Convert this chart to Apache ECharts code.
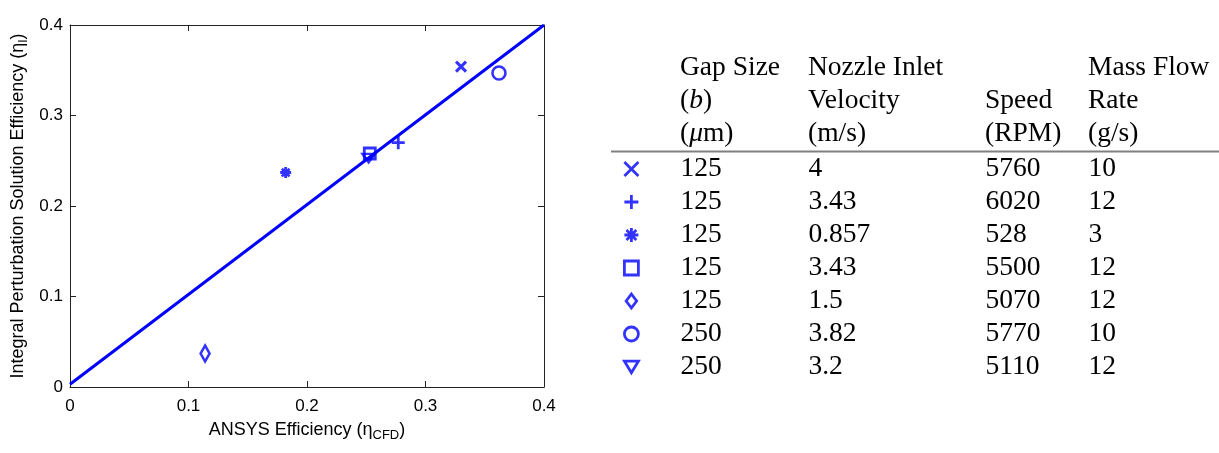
<!DOCTYPE html>
<html><head><meta charset="utf-8">
<script src="https://cdn.jsdelivr.net/npm/echarts@6/dist/echarts.min.js"></script>
<style>html,body{margin:0;padding:0;background:#fff}#c{width:1219px;height:453px}</style>
</head><body><div id="c"></div>
<script>
// ---- data ----
const caseNames = ['case1','case2','case3','case4','case5','case6','case7'];
const cfdEfficiency = [0.330, 0.277, 0.182, 0.253, 0.114, 0.362, 0.252];
const ipsEfficiency = [0.354, 0.270, 0.237, 0.258, 0.037, 0.347, 0.253];
const gapSize = ['125','125','125','125','125','250','250'];
const nozzleVelocity = ['4','3.43','0.857','3.43','1.5','3.82','3.2'];
const speedRPM = ['5760','6020','528','5500','5070','5770','5110'];
const massFlow = ['10','12','3','12','12','10','12'];
const fitX = [0, 0.4];
const fitY = [0.003, 0.4];
const xTickLabels = ['0','0.1','0.2','0.3','0.4'];
const yTickLabels = ['0','0.1','0.2','0.3','0.4'];
const headerCol1 = ['Gap Size', '({i|b})', '({i|\u03bc}m)'];
const headerCol2 = ['Nozzle Inlet', 'Velocity', '(m/s)'];
const headerCol3 = ['', 'Speed', '(RPM)'];
const headerCol4 = ['Mass Flow', 'Rate', '(g/s)'];

// ---- styles ----
const BLUE = '#0000ff';
const markerStyles = [
  {symbol:'path://M1,1L9,9M9,1L1,9', size:10, bw:3},
  {symbol:'path://M0,5L10,5M5,0L5,10', size:13, bw:2.8},
  {symbol:'path://M0,5L10,5M5,0L5,10M1.5,1.5L8.5,8.5M8.5,1.5L1.5,8.5', size:11, bw:2.8},
  {symbol:'rect', size:11, bw:2.8},
  {symbol:'path://M6,0L12,8L6,16L0,8Z', size:[12,16], bw:2.6},
  {symbol:'circle', size:13, bw:2.6},
  {symbol:'path://M0,0L12,0L6,10Z', size:[12,10], bw:2.6}
];
const serif = 'Liberation Serif';
const sans = 'Liberation Sans';
const TFS = 27.5;

const chart = echarts.init(document.getElementById('c'), null, {renderer:'canvas'});

const tickFmt = arr => (v => { const i = Math.round(v / 0.1); return arr[i] !== undefined ? arr[i] : ''; });

const series = [{
  type:'line', name:'fit', data: fitX.map((x,i)=>[x, fitY[i]]),
  showSymbol:false, symbol:'none', lineStyle:{color:BLUE, width:3}, z:1, silent:true
}];
caseNames.forEach((n,i)=>{
  const m = markerStyles[i];
  series.push({
    type:'scatter', name:n, data:[[cfdEfficiency[i], ipsEfficiency[i]]],
    symbol:m.symbol, symbolSize:m.size, symbolKeepAspect:true,
    itemStyle:{color:'rgba(255,255,255,0)', borderColor:BLUE, borderWidth:m.bw},
    z:3
  });
});

const headerCols = [headerCol1, headerCol2, headerCol3, headerCol4];
const colX = [680, 808, 985, 1088];
const rowY = [68, 101, 134];
const graphics = [];
headerCols.forEach((col,ci)=>{
  col.forEach((t,ri)=>{
    if (!t) return;
    graphics.push({
      type:'text', x:colX[ci], y:rowY[ri],
      style:{text:t, fontFamily:serif, fontSize:TFS, fill:'#000', verticalAlign:'middle', align:'left',
        rich:{i:{fontFamily:serif, fontSize:TFS, fontStyle:'italic', fill:'#000'}}}
    });
  });
});
graphics.push({type:'line', shape:{x1:611, y1:151.5, x2:1219, y2:151.5}, style:{stroke:'#808080', lineWidth:2}});

const richCell = w => ({width:w, fontFamily:serif, fontSize:TFS, color:'#000', lineHeight:14});

chart.setOption({
  animation:false,
  backgroundColor:'#fff',
  grid:{left:70, right:675, top:25, bottom:66, containLabel:false},
  xAxis:[{
    type:'value', min:0, max:0.4, interval:0.1, position:'bottom',
    axisLine:{show:true, onZero:false, lineStyle:{color:'#222', width:1}},
    axisTick:{show:true, inside:true, length:6, lineStyle:{color:'#222'}},
    splitLine:{show:false},
    axisLabel:{formatter:tickFmt(xTickLabels), fontFamily:sans, fontSize:17, color:'#000', margin:11},
    name:'{a|ANSYS Efficiency (\u03b7}{s|CFD}{a|)}', nameLocation:'middle', nameGap:31,
    nameTextStyle:{rich:{
      a:{fontFamily:sans, fontSize:18, color:'#000', lineHeight:24, verticalAlign:'middle'},
      s:{fontFamily:sans, fontSize:13, color:'#000', lineHeight:24, verticalAlign:'bottom'}
    }}
  },{
    type:'value', min:0, max:0.4, interval:0.1, position:'top',
    axisLine:{show:true, onZero:false, lineStyle:{color:'#222', width:1}},
    axisTick:{show:true, inside:true, length:6, lineStyle:{color:'#222'}},
    splitLine:{show:false}, axisLabel:{show:false}
  }],
  yAxis:[{
    type:'value', min:0, max:0.4, interval:0.1, position:'left',
    axisLine:{show:true, onZero:false, lineStyle:{color:'#222', width:1}},
    axisTick:{show:true, inside:true, length:6, lineStyle:{color:'#222'}},
    splitLine:{show:false},
    axisLabel:{formatter:tickFmt(yTickLabels), fontFamily:sans, fontSize:17, color:'#000', margin:7},
    name:'{a|Integral Perturbation Solution Efficiency (\u03b7}{s|I}{a|)}', nameLocation:'middle', nameGap:40,
    nameTextStyle:{rich:{
      a:{fontFamily:sans, fontSize:18, color:'#000', lineHeight:24, verticalAlign:'middle'},
      s:{fontFamily:sans, fontSize:12, color:'#000', lineHeight:24, verticalAlign:'bottom'}
    }}
  },{
    type:'value', min:0, max:0.4, interval:0.1, position:'right',
    axisLine:{show:true, onZero:false, lineStyle:{color:'#222', width:1}},
    axisTick:{show:true, inside:true, length:6, lineStyle:{color:'#222'}},
    splitLine:{show:false}, axisLabel:{show:false}
  }],
  legend:{
    orient:'vertical', left:618, top:150, itemWidth:14, itemHeight:14, itemGap:5.0,
    data:caseNames, selectedMode:false,
    itemStyle:{borderWidth:2.8},
    formatter: name => { const i = caseNames.indexOf(name);
      return `{s|}{a|${gapSize[i]}}{b|${nozzleVelocity[i]}}{c|${speedRPM[i]}}{d|${massFlow[i]}}`; },
    textStyle:{rich:{s:{width:37, lineHeight:14}, a:richCell(128), b:richCell(177), c:richCell(103), d:richCell(60)}}
  },
  graphic:graphics,
  series:series
});
</script></body></html>
